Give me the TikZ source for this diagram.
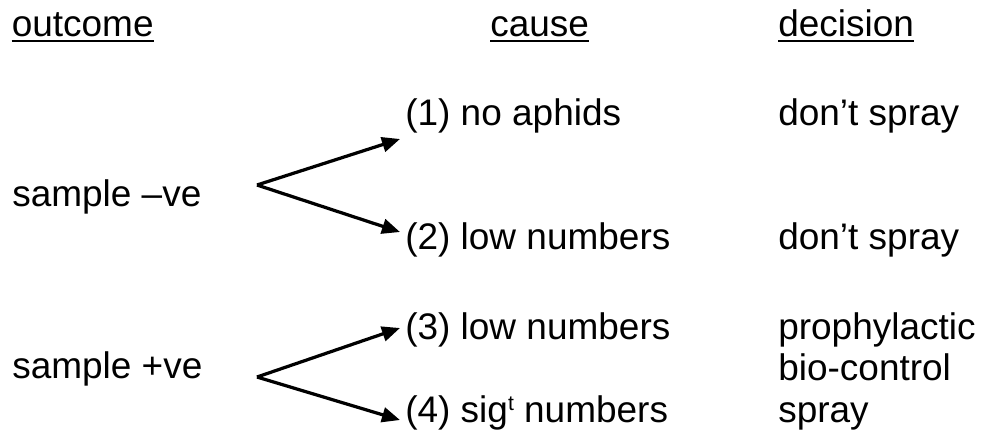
\documentclass[tikz,border=0pt]{standalone}
\usepackage{fontspec}
\setmainfont{Liberation Sans}
\usetikzlibrary{positioning,arrows.meta}

\begin{document}
\begin{tikzpicture}[x=0.025cm,y=-0.025cm,
      txt/.style={inner sep=0pt,anchor=base west,font=\fontsize{26.3}{29.2}\selectfont},
      uline/.style={line width=1.5pt},
      fork/.style={line width=2.3pt,-{Triangle[length=4.5mm,width=3.7mm]}}]
    \useasboundingbox (0,0) rectangle (984,430);
    % column heads
    \node[txt] (hout) at (11.5,36) {outcome};
    \node[txt] (hcause) at (490,36) {cause};
    \node[txt] (hdec) at (778,36) {decision};
    \draw[uline] ([yshift=-3.6pt]hout.base west) -- ([yshift=-3.6pt]hout.base east);
    \draw[uline] ([yshift=-3.6pt]hcause.base west) -- ([yshift=-3.6pt]hcause.base east);
    \draw[uline] ([yshift=-3.6pt]hdec.base west) -- ([yshift=-3.6pt]hdec.base east);
    % outcomes
    \node[txt] (neg) at (12,206) {sample –ve};
    \node[txt] (pos) at (12,378) {sample +ve};
    % causes
    \node[txt] (c1) at (405,125) {(1) no aphids};
    \node[txt] (c2) at (405,249) {(2) low numbers};
    \node[txt] (c3) at (405,339) {(3) low numbers};
    \node[txt] (c4) at (405,422) {(4) sig\raisebox{8pt}{\fontsize{15}{15}\selectfont t} numbers};
    % decisions
    \node[txt] (d1) at (778,125) {don’t spray};
    \node[txt] (d2) at (778,249) {don’t spray};
    \node[txt] (d3) at (778,339) {prophylactic};
    \node[txt] (d3b) at (778,380) {bio-control};
    \node[txt] (d4) at (778,422) {spray};
    % forks
    \coordinate (fneg) at (257,185);
    \coordinate (fpos) at (257,377);
    \draw[fork] (fneg) -- ([shift={(-5,14)}]c1.base west);
    \draw[fork] (fneg) -- ([shift={(-5,-17)}]c2.base west);
    \draw[fork] (fpos) -- ([shift={(-5,-11)}]c3.base west);
    \draw[fork] (fpos) -- ([shift={(-5,-2)}]c4.base west);
  \end{tikzpicture}
\end{document}
